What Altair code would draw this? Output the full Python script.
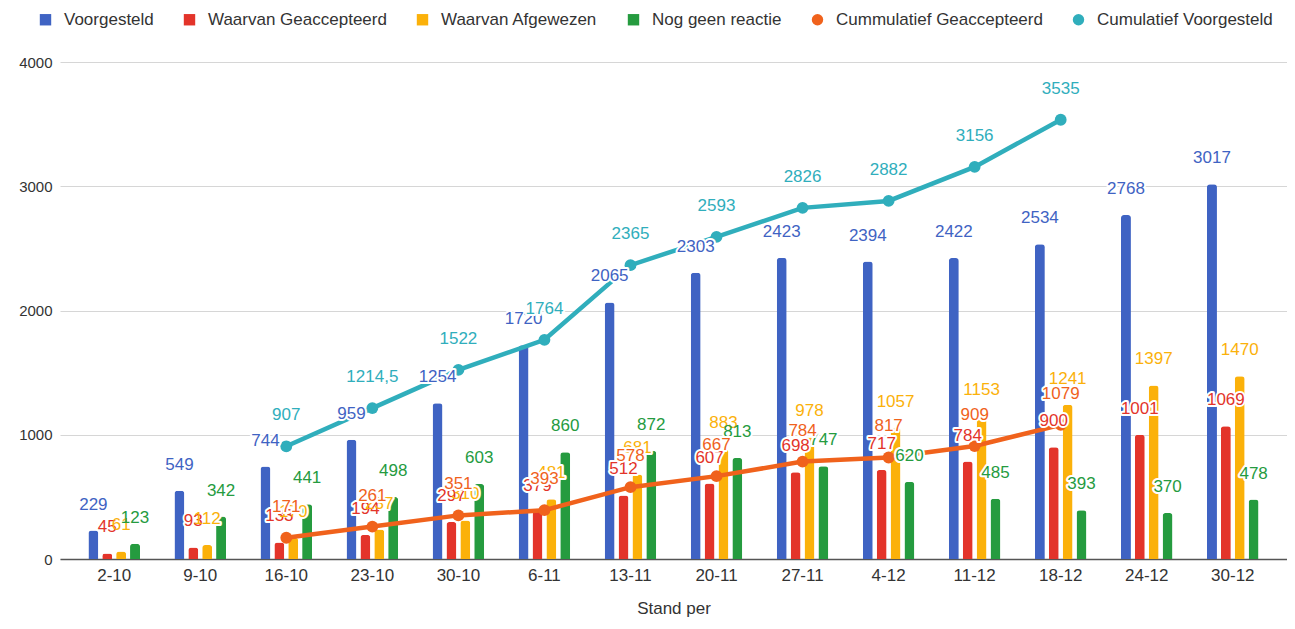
import altair as alt
import pandas as pd

cats = ["2-10", "9-10", "16-10", "23-10", "30-10", "6-11", "13-11", "20-11",
        "27-11", "4-12", "11-12", "18-12", "24-12", "30-12"]
voorgesteld = [229, 549, 744, 959, 1254, 1720, 2065, 2303, 2423, 2394, 2422, 2534, 2768, 3017]
geaccepteerd = [45, 93, 133, 194, 297, 379, 512, 607, 698, 717, 784, 900, 1001, 1069]
afgewezen = [61, 112, 170, 237, 310, 481, 681, 883, 978, 1057, 1153, 1241, 1397, 1470]
nog_geen = [123, 342, 441, 498, 603, 860, 872, 813, 747, 620, 485, 393, 370, 478]
cum_geacc = [None, None, 171, 261, 351, 393, 578, 667, 784, 817, 909, 1079, None, None]
cum_voorg = [None, None, 907, 1214.5, 1522, 1764, 2365, 2593, 2826, 2882, 3156, 3535, None, None]

bar_series = ["Voorgesteld", "Waarvan Geaccepteerd", "Waarvan Afgewezen", "Nog geen reactie"]
line_series = ["Cummulatief Geaccepteerd", "Cumulatief Voorgesteld"]
all_series = bar_series + line_series
colors = ["#3f63c3", "#e3342a", "#fbb10a", "#259b3f", "#f0621c", "#30aebc"]
shapes = ["square", "square", "square", "square", "circle", "circle"]


def fmt(v):
    return f"{v:g}".replace(".", ",")


rows = []
for s, vals in zip(bar_series, [voorgesteld, geaccepteerd, afgewezen, nog_geen]):
    for c, v in zip(cats, vals):
        rows.append({"cat": c, "series": s, "value": v, "label": fmt(v)})
bars_df = pd.DataFrame(rows)

rows = []
for s, vals in zip(line_series, [cum_geacc, cum_voorg]):
    for c, v in zip(cats, vals):
        if v is not None:
            rows.append({"cat": c, "series": s, "value": v, "label": fmt(v)})
lines_df = pd.DataFrame(rows)

FONT = "Liberation Sans"

legend = alt.Legend(
    title=None, orient="none", legendX=-23, legendY=-51, direction="horizontal",
    symbolSize=130, labelFontSize=17, labelColor="#333333", labelFont=FONT,
    columnPadding=27, labelOffset=10, symbolStrokeWidth=0, labelLimit=0,
)

xenc = alt.X(
    "cat:N", sort=cats,
    scale=alt.Scale(domain=cats, paddingInner=0.4, paddingOuter=0.33),
    axis=alt.Axis(
        title="Stand per", labelAngle=0, ticks=False, labelPadding=8,
        labelFontSize=17, labelColor="#333333", labelFont=FONT,
        domainColor="#555555", domainWidth=1.5, grid=False,
        titleFontSize=17, titleFontWeight="normal", titleColor="#333333",
        titleFont=FONT, titlePadding=17,
    ),
)
yenc = alt.Y(
    "value:Q",
    scale=alt.Scale(domain=[0, 4000], nice=False),
    axis=alt.Axis(
        title=None, values=[0, 1000, 2000, 3000, 4000], domain=False, ticks=False,
        format="d", labelPadding=8, labelFontSize=15, labelColor="#333333",
        labelFont=FONT, gridColor="#d6d6d6", gridWidth=1,
    ),
)
color_scale = alt.Scale(domain=all_series, range=colors)
xoff = alt.XOffset("series:N", sort=bar_series,
                   scale=alt.Scale(domain=bar_series, paddingInner=0.28))

LBL = 17

bars = alt.Chart(bars_df).mark_bar(cornerRadiusTopLeft=3, cornerRadiusTopRight=3).encode(
    x=xenc, y=yenc, xOffset=xoff,
    color=alt.Color("series:N", scale=color_scale, legend=legend),
)

bar_halo = alt.Chart(bars_df).mark_text(
    baseline="middle", dy=-26, fontSize=LBL, font=FONT, fill="white",
    stroke="white", strokeWidth=4, strokeJoin="round",
).encode(x=xenc, y=yenc, xOffset=xoff, text="label:N")

bar_text = alt.Chart(bars_df).mark_text(
    baseline="middle", dy=-26, fontSize=LBL, font=FONT,
).encode(
    x=xenc, y=yenc, xOffset=xoff, text="label:N",
    color=alt.Color("series:N", scale=color_scale, legend=None),
)

lines = alt.Chart(lines_df).mark_line(strokeWidth=4.5).encode(
    x=xenc, y=yenc,
    color=alt.Color("series:N", scale=color_scale, legend=None),
    detail="series:N",
)

points = alt.Chart(lines_df).mark_point(filled=True, size=140, opacity=1).encode(
    x=xenc, y=yenc,
    color=alt.Color("series:N", scale=color_scale, legend=legend),
    shape=alt.Shape("series:N", scale=alt.Scale(domain=all_series, range=shapes), legend=legend),
)

line_halo = alt.Chart(lines_df).mark_text(
    baseline="middle", dy=-31, fontSize=LBL, font=FONT, fill="white",
    stroke="white", strokeWidth=4, strokeJoin="round",
).encode(x=xenc, y=yenc, text="label:N")

line_text = alt.Chart(lines_df).mark_text(
    baseline="middle", dy=-31, fontSize=LBL, font=FONT,
).encode(
    x=xenc, y=yenc, text="label:N",
    color=alt.Color("series:N", scale=color_scale, legend=None),
)

chart = alt.layer(
    bars, lines, points, bar_halo, bar_text, line_halo, line_text
).properties(
    width=1227, height=497,
    autosize=alt.AutoSizeParams(type="none"),
    padding={"left": 52, "top": 54, "right": 0, "bottom": 62},
    background="white",
).configure_view(stroke=None)

chart.save("out.html", embed_options={"renderer": "svg", "actions": False})
